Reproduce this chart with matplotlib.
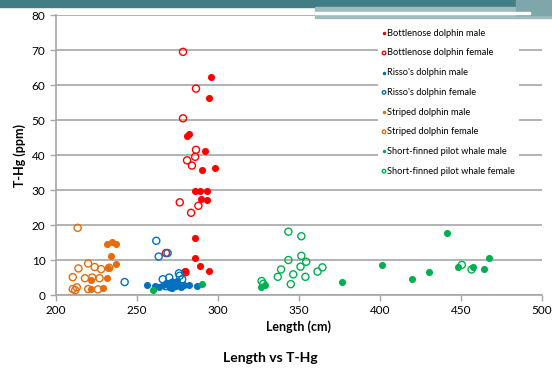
import matplotlib.pyplot as plt
from matplotlib.patches import Rectangle

plt.rcParams['font.family'] = ['Lato', 'DejaVu Sans']

# Bottlenose dolphin
bn_male_len = [296, 294.5, 281, 282.5, 292, 290.5, 298, 286, 289, 293, 289.5, 293, 286, 286, 289, 294.5, 280]
bn_male_hg = [62.3, 56.3, 45.4, 46, 41.3, 35.6, 36.2, 29.8, 29.6, 29.6, 27.4, 27.1, 16.3, 10.6, 8.2, 7, 6.8]
bn_female_len = [278.5, 286.5, 278.5, 281, 284, 286.5, 286, 276.5, 283.5, 288, 268, 280]
bn_female_hg = [69.5, 59, 50.5, 38.5, 37, 41.5, 39.5, 26.5, 23.5, 25.5, 12, 6.5]

# Risso's dolphin
risso_male_len = [256.5, 261, 264, 266, 268, 270, 271, 272, 273, 274, 275, 276, 277, 279, 282, 287]
risso_male_hg = [2.8, 2.5, 2.2, 3.0, 3.4, 2.6, 3.8, 2.0, 3.2, 2.5, 4.0, 3.0, 2.4, 2.8, 2.9, 2.7]
risso_female_len = [242.5, 262, 263.5, 269, 266, 270, 272, 274, 276, 276.5, 278, 268, 271]
risso_female_hg = [3.7, 15.5, 11, 12, 4.5, 5, 3.5, 3, 6.2, 5.5, 4.5, 2.5, 2.2]

# Striped dolphin
striped_male_len = [231.5, 234.5, 237, 234, 232.5, 237, 231.5, 222, 229, 221.5]
striped_male_hg = [14.6, 15.1, 14.6, 11.1, 7.8, 8.9, 4.8, 1.7, 1.9, 4.3]
striped_female_len = [213.5, 220, 214, 228, 233, 210.5, 218, 222.5, 227, 210.5, 212, 220, 226, 213, 224]
striped_female_hg = [19.2, 9, 7.6, 7.4, 7.8, 5.1, 4.8, 5, 4.8, 1.7, 1.4, 1.7, 1.6, 2.2, 8]

# Short-finned pilot whale
pilot_male_len = [260, 290.5, 326.5, 329, 376.5, 401, 419.5, 430.5, 441.5, 448, 457.5, 464, 467.5]
pilot_male_hg = [1.5, 3.1, 2.4, 3.0, 3.6, 8.6, 4.6, 6.5, 17.6, 8.1, 8.1, 7.4, 10.5]
pilot_female_len = [343.5, 351.5, 343.5, 351.5, 354.5, 351, 339, 337, 346.5, 354, 345, 361.5, 364.5, 327, 328, 450.5, 456.5]
pilot_female_hg = [18.1, 16.8, 10, 11.2, 9.5, 8.1, 7.3, 5.2, 5.9, 5.2, 3.1, 6.7, 7.9, 4.0, 3.2, 8.6, 7.3]

red = '#ff0000'
blue = '#0070c0'
orange = '#e46c0a'
green = '#00b050'

series = [
    ('Bottlenose dolphin male', bn_male_len, bn_male_hg, red, True),
    ('Bottlenose dolphin female', bn_female_len, bn_female_hg, red, False),
    ("Risso's dolphin male", risso_male_len, risso_male_hg, blue, True),
    ("Risso's dolphin female", risso_female_len, risso_female_hg, blue, False),
    ('Striped dolphin male', striped_male_len, striped_male_hg, orange, True),
    ('Striped dolphin female', striped_female_len, striped_female_hg, orange, False),
    ('Short-finned pilot whale male', pilot_male_len, pilot_male_hg, green, True),
    ('Short-finned pilot whale female', pilot_female_len, pilot_female_hg, green, False),
]

fig = plt.figure(figsize=(5.52, 3.69), dpi=100)
ax = fig.add_axes([0.101, 0.2005, 0.881, 0.7585])

# slide header decoration
fig.patches.append(Rectangle((0, 0.982), 0.935, 0.018, transform=fig.transFigure,
                             color='#417d84', zorder=0))
fig.patches.append(Rectangle((0.57, 0.952), 0.43, 0.03, transform=fig.transFigure,
                             color='#9fbcc0', zorder=0))
fig.patches.append(Rectangle((0.57, 0.962), 0.39, 0.006, transform=fig.transFigure,
                             color='white', zorder=1))
fig.patches.append(Rectangle((0.935, 0.96), 0.065, 0.04, transform=fig.transFigure,
                             color='#7fa6ab', zorder=0))

for label, xs, ys, col, filled in series:
    ax.scatter(xs, ys, s=26, label=label, zorder=3,
               facecolors=col if filled else 'none',
               edgecolors=col, linewidths=1.0 if not filled else 0)

ax.set_xlim(200, 500)
ax.set_ylim(0, 80)
ax.set_xticks(range(200, 501, 50))
ax.set_yticks(range(0, 81, 10))
ax.yaxis.grid(True, color='#a6a6a6', linewidth=1.2)
ax.set_axisbelow(True)
for s in ['top', 'right']:
    ax.spines[s].set_visible(False)
for s in ['left', 'bottom']:
    ax.spines[s].set_color('#a6a6a6')
    ax.spines[s].set_linewidth(1.2)
ax.tick_params(axis='both', colors='#a6a6a6', labelcolor='black', labelsize=8.5,
               length=4, width=1)

ax.set_xlabel('Length (cm)', fontsize=9, fontweight='bold', labelpad=3)
ax.set_ylabel('T-Hg (ppm)', fontsize=9, fontweight='bold', labelpad=4)

leg = ax.legend(loc='upper left', bbox_to_anchor=(378 / 552, 1 - 25 / 369),
                bbox_transform=fig.transFigure, fontsize=6.7, frameon=True,
                framealpha=1, edgecolor='none', facecolor='white',
                labelspacing=1.15, handlelength=0.5, handletextpad=0.1,
                markerscale=0.5, borderpad=0.4, borderaxespad=0)
leg.set_zorder(4)

fig.text(0.49, 0.03, 'Length vs T-Hg', ha='center', va='center',
         fontsize=10, fontweight='bold')

fig.savefig('out.png', dpi=100)
